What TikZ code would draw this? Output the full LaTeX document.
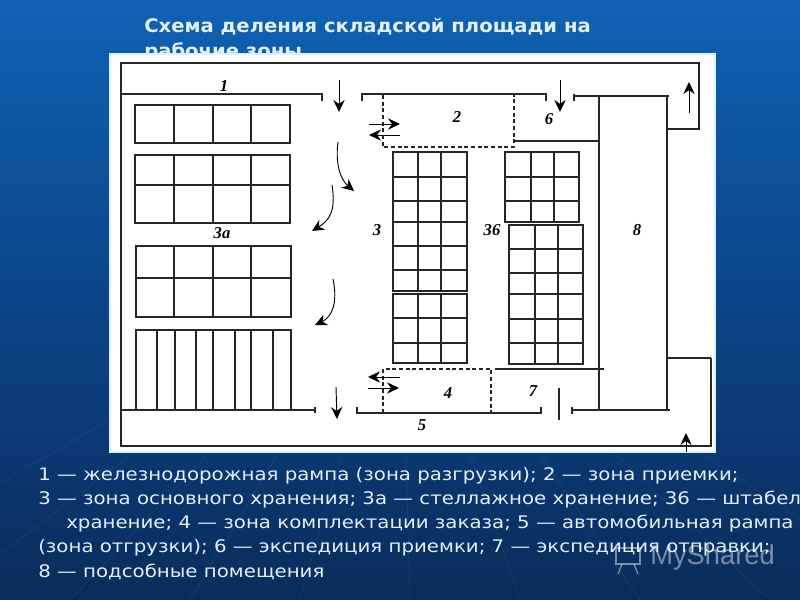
\documentclass[tikz,border=0pt]{standalone}
\usepackage{fontspec}
\setmainfont{Liberation Sans}
\newfontfamily\planfont{Liberation Serif}
\newfontfamily\titlefont[FakeStretch=1.05]{DejaVu Sans}
\newfontfamily\legendfont[FakeStretch=1.14]{DejaVu Sans}
\usetikzlibrary{arrows.meta}
\definecolor{slidetop}{HTML}{0F62B4}
\definecolor{slidemid}{HTML}{0B4488}
\definecolor{slidelow}{HTML}{0A2C5A}
\definecolor{slidetext}{HTML}{E2F0FC}
\tikzstyle{wall} = [draw=black!85, line width=0.9pt]
\tikzstyle{zone} = [draw=black!85, line width=0.9pt, dash pattern=on 3pt off 2pt]
\tikzstyle{rack} = [draw=black!85, line width=0.9pt]
\tikzstyle{flow} = [draw=black, line width=0.7pt, ->]
\tikzstyle{zonemark} = [font=\planfont\bfseries\itshape\fontsize{12.5}{14}\selectfont, inner sep=0pt]
\tikzstyle{slidetitle} = [anchor=west, inner sep=0pt, text=slidetext, font=\titlefont\bfseries\fontsize{14}{18}\selectfont]
\tikzstyle{legendline} = [anchor=west, inner sep=0pt, text=slidetext, font=\legendfont\fontsize{13}{16}\selectfont]

\begin{document}
\begin{tikzpicture}[x=0.75pt, y=-0.75pt, >={Stealth[length=9pt,width=8.5pt]}]
  \useasboundingbox (0,0) rectangle (800,600);
  \clip (0,0) rectangle (800,600);

  % Slide background first, the sheet goes over the title.
  \shade [top color=slidetop, bottom color=slidemid] (0,0) rectangle (800,300);
  \shade [top color=slidemid, bottom color=slidelow] (0,300) rectangle (800,600);
  \foreach \x in {-200,-60,70,190,300,410,520,640,770,920}
    \draw [white, opacity=0.08] (\x,600) -- (400,250);

  \node [slidetitle] (title1) at (144,27) {Схема деления складской площади на};
  \node [slidetitle] (title2) at (144,52) {рабочие зоны};

  % The sheet with the plan
  \filldraw [fill=white, draw=cyan!15, line width=1pt] (110,54) rectangle (715,452);

  % Outer walls
  \draw [wall] (711,358) -- (667,358);
  \draw [wall] (121,94) -- (121,63) -- (699,63) -- (699,129) -- (667,129);
  \draw [wall] (121,94) -- (121,446) -- (711,446) -- (711,358);
  \draw [wall] (599,96) rectangle (667,410);
  \draw [wall] (574,96) -- (599,96);
  \draw [wall] (572,407) -- (572,414);
  \draw [wall] (572,410) -- (670,410);
  \draw [wall] (667,96) -- (669,96);

  % Ramps and inner walls
  \draw [wall] (121,94) -- (322,94) -- (322,101);
  \draw [wall] (362,101) -- (362,94) -- (546,94) -- (546,101);
  \draw [wall] (574,94) -- (574,101);
  \draw [wall] (514,141) -- (599,141);
  \draw [wall] (122,410) -- (315,410);
  \draw [wall] (315,407) -- (315,413);
  \draw [wall] (357,407) -- (357,413) -- (541,413) -- (541,407);
  \draw [wall] (495,369) -- (604,369);
  \draw [wall] (559,388) -- (559,420);

  % Zones with dashes
  \draw [zone] (383,95) -- (383,147) -- (514,147) -- (514,95);
  \draw [zone] (383,413) -- (383,369) -- (491,369) -- (491,413);

  % Racks on the left
  \draw [rack] (135,105) rectangle (290,143);
  \foreach \x in {174,213,251}
    \draw [rack] (\x,105) -- (\x,143);
  \draw [rack] (135,155) rectangle (290,223);
  \draw [rack] (135,185) -- (290,185);
  \foreach \x in {174,213,251}
    \draw [rack] (\x,155) -- (\x,223);
  \draw [rack] (136,246) rectangle (291,317);
  \draw [rack] (136,278) -- (291,278);
  \foreach \x in {174,213,251}
    \draw [rack] (\x,246) -- (\x,317);
  \draw [rack] (136,330) rectangle (291,410);
  \foreach \x in {157,175,196,213,235,251,273}
    \draw [rack] (\x,330) -- (\x,410);

  % Racks in the middle
  \draw [rack] (393,152) rectangle (467,291);
  \foreach \y in {177,201,222,246,270}
    \draw [rack] (393,\y) -- (467,\y);
  \draw [rack] (393,294) rectangle (467,363);
  \foreach \y in {318,343}
    \draw [rack] (393,\y) -- (467,\y);
  \foreach \x in {418,441} {
    \draw [rack] (\x,152) -- (\x,291);
    \draw [rack] (\x,294) -- (\x,363);
  }

  % Racks on the right
  \draw [rack] (505,152) rectangle (579,222);
  \foreach \y in {177,201}
    \draw [rack] (505,\y) -- (579,\y);
  \foreach \x in {531,554}
    \draw [rack] (\x,152) -- (\x,222);
  \draw [rack] (509,225) rectangle (583,364);
  \foreach \y in {249,273,294,319,343}
    \draw [rack] (509,\y) -- (583,\y);
  \foreach \x in {535,558}
    \draw [rack] (\x,225) -- (\x,364);

  % Goods flow
  \draw [flow] (339,80) -- (339,112);
  \draw [flow] (560,80) -- (560,112);
  \draw [flow] (369,124) -- (400,124);
  \draw [flow] (400,135) -- (369,135);
  \draw [flow] (338,142) .. controls (335,165) and (341,180) .. (354,191);
  \draw [flow] (332,185) .. controls (336,210) and (330,220) .. (312,231);
  \draw [flow] (333,279) .. controls (338,303) and (332,317) .. (315,325);
  \draw [flow] (400,377) -- (368,377);
  \draw [flow] (368,388) -- (399,388);
  \draw [flow] (336,387) -- (337,419);
  \draw [flow] (689,113) -- (689,82);
  \draw [flow] (686,452) -- (686,433);

  % Numbers of the zones
  \node [zonemark] (rail) at (224,86) {1};
  \node [zonemark] (intake) at (457,117) {2};
  \node [zonemark] (dispatchin) at (549,119) {6};
  \node [zonemark] (shelves) at (222,233) {3а};
  \node [zonemark] (store) at (377,230) {3};
  \node [zonemark] (stacks) at (492,230) {36};
  \node [zonemark] (rooms) at (637,230) {8};
  \node [zonemark] (picking) at (448,393) {4};
  \node [zonemark] (dispatchout) at (533,391) {7};
  \node [zonemark] (truck) at (422,425) {5};

  % Legend
  \node [legendline] (line1) at (38,476) {1 — железнодорожная рампа (зона разгрузки); 2 — зона приемки;};
  \node [legendline] (line2) at (38,500) {3 — зона основного хранения; 3а — стеллажное хранение; 36 — штабел};
  \node [legendline] (line3) at (66,524) {хранение; 4 — зона комплектации заказа; 5 — автомобильная рампа};
  \node [legendline] (line4) at (38,548) {(зона отгрузки); 6 — экспедиция приемки; 7 — экспедиция отправки;};
  \node [legendline] (line5) at (38,572) {8 — подсобные помещения};

  % Watermark
  \node [anchor=west, inner sep=0pt, text=white, opacity=0.45, font=\fontsize{20.5}{24}\selectfont] (share) at (650,557) {MyShared};
  \draw [white, opacity=0.45, line width=1pt] (616,548) rectangle (640,564);
  \draw [white, opacity=0.45, line width=1pt] (622,564) -- (618,574) (634,564) -- (638,574);

\end{tikzpicture}
\end{document}
